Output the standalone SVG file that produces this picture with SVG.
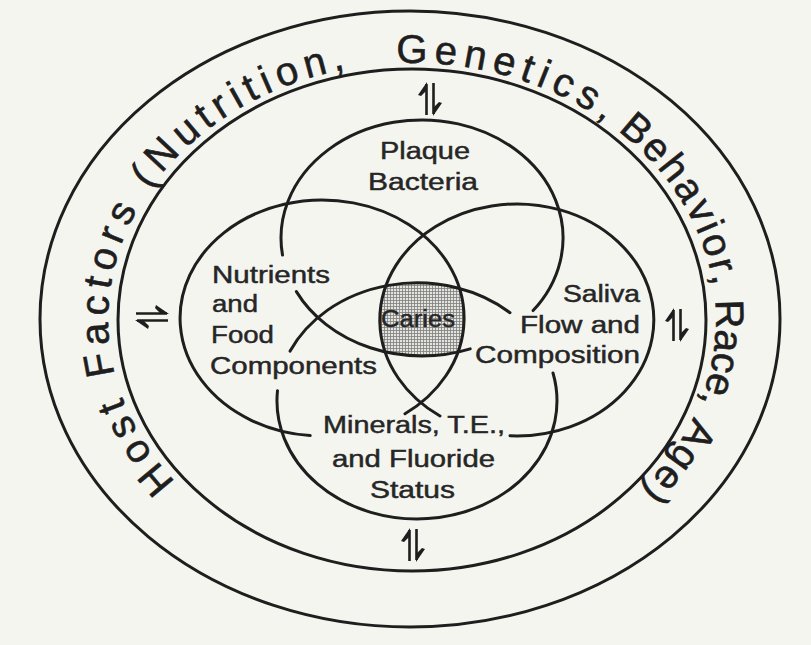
<svg xmlns="http://www.w3.org/2000/svg" width="811" height="645" viewBox="0 0 811 645">
<style>
.ln{fill:none;stroke:#1e1e1e;stroke-width:3;stroke-linecap:round}
.lbl{font-family:"Liberation Sans",Arial,sans-serif;font-size:23px;fill:#262626;stroke:#262626;stroke-width:0.45}
.ring{font-family:"Liberation Sans",Arial,sans-serif;font-size:40px;fill:#1e1e1e;stroke:#1e1e1e;stroke-width:0.6}
</style>
<defs>
<pattern id="hatch" width="3" height="3" patternUnits="userSpaceOnUse">
<rect width="3" height="3" fill="#e4e4df"/>
<path d="M0 0.5H3M0.5 0V3" stroke="#7d7d7d" stroke-width="0.8"/>
</pattern>
<clipPath id="cT"><ellipse cx="422" cy="238" rx="141" ry="118"/></clipPath>
<clipPath id="cL"><ellipse cx="322" cy="318" rx="142" ry="118"/></clipPath>
<clipPath id="cR"><ellipse cx="517" cy="320" rx="137" ry="116"/></clipPath>
<clipPath id="cB"><ellipse cx="417" cy="401" rx="140" ry="118"/></clipPath>
<path id="ringPath" d="M175.75,481.74 A304,257 0 1 1 641.43,488.61"/>
<g id="harp">
<path d="M-16,-3.5H15M-15,3.5H16" fill="none" stroke="#1e1e1e" stroke-width="2.6"/>
<path d="M17,-3 L4,-12 L3,-9 L9,-3 Z M-17,3 L-4,12 L-3,9 L-9,3 Z" fill="#1e1e1e"/>
</g>
</defs>
<rect width="811" height="645" fill="#f5f5f0"/>

<g id="outer-ring">
<ellipse class="ln" cx="410" cy="319" rx="370" ry="308"/>
<ellipse class="ln" cx="412" cy="320" rx="294" ry="251"/>
<text class="ring" letter-spacing="6.2"><textPath href="#ringPath" startOffset="0">Host Factors (Nutrition,</textPath></text>
<text class="ring" letter-spacing="6.5"><textPath href="#ringPath" startOffset="605">Genetics,</textPath></text>
<text class="ring" letter-spacing="2.5"><textPath href="#ringPath" startOffset="841">Behavior,</textPath></text>
<text class="ring" letter-spacing="0"><textPath href="#ringPath" startOffset="1042">Race,</textPath></text>
<text class="ring" letter-spacing="2"><textPath href="#ringPath" startOffset="1162">Age)</textPath></text>
</g>

<g id="caries">
<g clip-path="url(#cT)"><g clip-path="url(#cL)"><g clip-path="url(#cR)">
<rect x="360" y="270" width="120" height="100" fill="url(#hatch)" clip-path="url(#cB)"/>
</g></g></g>
<text class="lbl" x="381" y="327" textLength="74" lengthAdjust="spacingAndGlyphs">Caries</text>
</g>

<g id="connectors">
<use href="#harp" transform="translate(152,317)"/>
<use href="#harp" transform="translate(430,99) rotate(-90)"/>
<use href="#harp" transform="translate(413,545) rotate(-90)"/>
<use href="#harp" transform="translate(677,325) rotate(-90)"/>
</g>

<g id="plaque">
<path class="ln" d="M296.4,291.6 A141,118 0 0 0 470.2,348.9 M533.1,310.6 A141,118 0 1 0 282.5,255.0"/>
<text class="lbl" x="380" y="159" textLength="90" lengthAdjust="spacingAndGlyphs">Plaque</text>
<text class="lbl" x="368" y="190" textLength="110" lengthAdjust="spacingAndGlyphs">Bacteria</text>
</g>

<g id="nutrients">
<path class="ln" d="M405,413.8 A142,118 0 1 0 310.2,435.6"/>
<text class="lbl" x="212" y="283" textLength="118" lengthAdjust="spacingAndGlyphs">Nutrients</text>
<text class="lbl" x="212" y="312" textLength="46" lengthAdjust="spacingAndGlyphs">and</text>
<text class="lbl" x="211" y="343" textLength="63" lengthAdjust="spacingAndGlyphs">Food</text>
<text class="lbl" x="210" y="374" textLength="167" lengthAdjust="spacingAndGlyphs">Components</text>
</g>

<g id="saliva">
<path class="ln" d="M440,416 A137,116 0 1 1 510,435.8"/>
<text class="lbl" x="563" y="302" textLength="77" lengthAdjust="spacingAndGlyphs">Saliva</text>
<text class="lbl" x="520" y="333" textLength="120" lengthAdjust="spacingAndGlyphs">Flow and</text>
<text class="lbl" x="475" y="363" textLength="165" lengthAdjust="spacingAndGlyphs">Composition</text>
</g>

<g id="minerals">
<path class="ln" d="M290.1,351.1 A140,118 0 0 1 510,312.7 M553,373 A140,118 0 1 1 277.5,390.7"/>
<text class="lbl" x="323" y="433" textLength="182" lengthAdjust="spacingAndGlyphs">Minerals, T.E.,</text>
<text class="lbl" x="332" y="467" textLength="163" lengthAdjust="spacingAndGlyphs">and Fluoride</text>
<text class="lbl" x="370" y="498" textLength="85" lengthAdjust="spacingAndGlyphs">Status</text>
</g>
</svg>
